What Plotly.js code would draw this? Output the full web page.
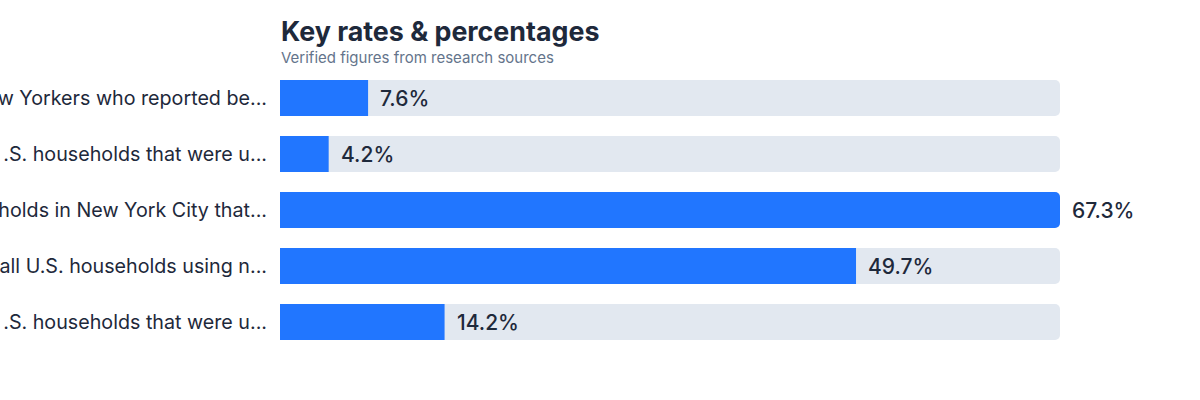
<!DOCTYPE html>
<html>
<head>
<meta charset="utf-8">
<script src="https://cdn.plot.ly/plotly-3.0.1.min.js"></script>
<style>html,body{margin:0;padding:0;background:#fff;}#chart{width:1200px;height:400px;}</style>
</head>
<body>
<div id="chart"></div>
<script>
const categories = [
  "w Yorkers who reported be...",
  ".S. households that were u...",
  "holds in New York City that...",
  "all U.S. households using n...",
  ".S. households that were u..."
];
const values = [7.6, 4.2, 67.3, 49.7, 14.2];
const valueLabels = ["7.6%", "4.2%", "67.3%", "49.7%", "14.2%"];
const titleText = "Key rates & percentages";
const subtitleText = "Verified figures from research sources";

const ids = categories.map((c, i) => i);
const maxVal = Math.max(...values);
const textColor = "#1e293b";

const track = {
  type: "bar", orientation: "h",
  y: ids, x: values.map(() => maxVal),
  marker: {color: "#e2e8f0", cornerradius: 5},
  hoverinfo: "skip", showlegend: false
};
const bars = {
  type: "bar", orientation: "h",
  y: ids, x: values,
  marker: {color: "#2176ff", cornerradius: 5},
  showlegend: false
};

const annotations = values.map((v, i) => ({
  x: v, y: i, xref: "x", yref: "y",
  text: valueLabels[i], showarrow: false,
  xanchor: "left", xshift: 10,
  font: {family: "Inter, sans-serif", size: 21, color: textColor, weight: 500}
}));
annotations.push({
  xref: "paper", yref: "paper", x: 0, y: 1.139, xanchor: "left", yanchor: "middle",
  xshift: -1,
  text: "<b>" + titleText + "</b>", showarrow: false,
  font: {family: "Inter, sans-serif", size: 26.8, color: textColor}
});
annotations.push({
  xref: "paper", yref: "paper", x: 0, y: 1.046, xanchor: "left", yanchor: "middle",
  xshift: -1,
  text: subtitleText, showarrow: false,
  font: {family: "Inter, sans-serif", size: 15, color: "#64748b"}
});

const layout = {
  width: 1200, height: 400,
  margin: {l: 280, r: 140, t: 70, b: 50},
  paper_bgcolor: "#fff", plot_bgcolor: "#fff",
  barmode: "overlay", bargap: 0.357,
  xaxis: {range: [0, maxVal], visible: false, fixedrange: true},
  yaxis: {
    tickmode: "array", tickvals: ids, ticktext: categories,
    autorange: "reversed", showgrid: false, zeroline: false, showline: false,
    ticks: "", ticklabelstandoff: 12, automargin: false,
    tickfont: {family: "Inter, sans-serif", size: 19.7, color: textColor}
  },
  annotations: annotations,
  showlegend: false
};

Plotly.newPlot("chart", [track, bars], layout, {displayModeBar: false, staticPlot: true});
</script>
</body>
</html>
